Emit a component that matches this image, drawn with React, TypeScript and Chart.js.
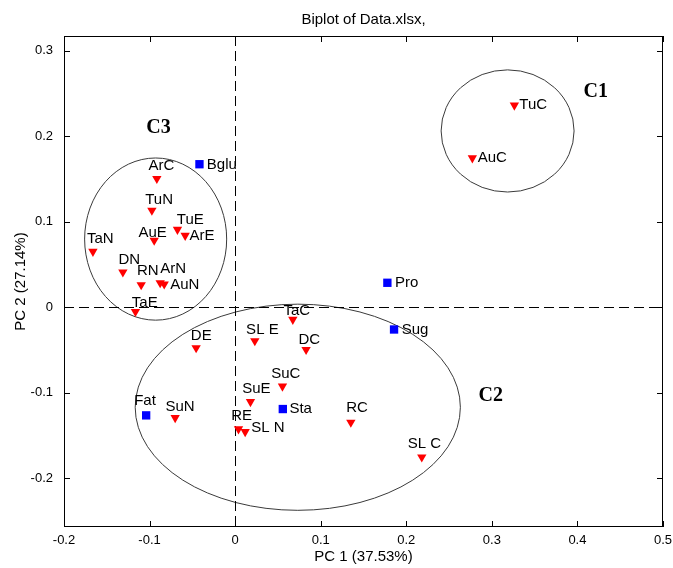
import React, { useEffect, useRef } from 'react';
import { Chart, registerables } from 'chart.js';

Chart.register(...registerables);

// ---------- data ----------
const sampleNames = ['TuC', 'AuC', 'ArC', 'TuN', 'TuE', 'ArE', 'AuE', 'TaN', 'DN', 'RN', 'ArN', 'AuN', 'TaE', 'TaC', 'SL E', 'DE', 'DC', 'SuC', 'SuE', 'SuN', 'RE', 'SL N', 'RC', 'SL C'];
const samplePC1 = [0.3263, 0.2772, -0.0915, -0.0973, -0.0674, -0.0584, -0.0946, -0.1662, -0.1312, -0.1098, -0.0876, -0.0829, -0.1165, 0.0674, 0.0230, -0.0456, 0.0829, 0.0553, 0.0179, -0.0701, 0.0039, 0.0117, 0.1352, 0.2181];
const samplePC2 = [0.2360, 0.1744, 0.1502, 0.1131, 0.0908, 0.0838, 0.0780, 0.0651, 0.0410, 0.0261, 0.0284, 0.0269, -0.0052, -0.0145, -0.0395, -0.0477, -0.0497, -0.0925, -0.1106, -0.1293, -0.1425, -0.1457, -0.1347, -0.1753];

const variableNames = ['Bglu', 'Pro', 'Sug', 'Sta', 'Fat'];
const variablePC1 = [-0.0417, 0.1779, 0.1857, 0.0557, -0.1040];
const variablePC2 = [0.1671, 0.0285, -0.0261, -0.1191, -0.1265];

const xTicks = [-0.2, -0.1, 0, 0.1, 0.2, 0.3, 0.4, 0.5];
const yTicks = [-0.2, -0.1, 0, 0.1, 0.2, 0.3];

const clusterNames = ['C1', 'C2', 'C3'];
const clusterCenterPC1 = [0.3184, 0.0732, -0.0929];
const clusterCenterPC2 = [0.2060, -0.1170, 0.0796];
const clusterRadiusPC1 = [0.0777, 0.1900, 0.0830];
const clusterRadiusPC2 = [0.0714, 0.1205, 0.0948];
const clusterLabelPC1 = [0.4214, 0.2987, -0.0896];
const clusterLabelPC2 = [0.2512, -0.1034, 0.2092];

// ---------- label layout (pixel offsets from marker) ----------
const sampleLabelOffset = [
  [5, 0], [5.4, 0], [-8.4, -12.7], [-6.7, -10.7], [-0.6, -9.7], [4.3, 0.6], [-15.7, -7.7], [-6, -12.7],
  [-4.4, -12.6], [-4.3, -14.3], [0, -14], [6, 0.4], [-3.6, -8.7], [-9.4, -9], [-8.7, -11.3], [-5.3, -12.3],
  [-7.7, -10], [-11.3, -12.3], [-8.3, -12.7], [-9.7, -11], [-7.3, -12.7], [6, -4.4], [-4.7, -15], [-14, -13],
];
const variableLabelOffset = [[7.4, 0.7], [7.7, 0], [7.7, 0.7], [6.6, 0], [-12, -15]];

const FONT = '"Liberation Sans", Arial, Helvetica, sans-serif';
const SERIF = '"Liberation Serif", "Times New Roman", serif';

const fmt = (v: number) => (Math.abs(v) < 1e-9 ? '0' : String(parseFloat(Number(v).toFixed(2))));

const decorPlugin = {
  id: 'biplotDecor',
  beforeDatasetsDraw(chart: any) {
    const { ctx, chartArea, scales } = chart;
    const { left, right, top, bottom } = chartArea;
    const xs = scales.x;
    const ys = scales.y;
    ctx.save();
    // cluster ellipses
    ctx.strokeStyle = '#3a3a3a';
    ctx.lineWidth = 1;
    clusterNames.forEach((_, i) => {
      const cx = xs.getPixelForValue(clusterCenterPC1[i]);
      const cy = ys.getPixelForValue(clusterCenterPC2[i]);
      const rx = Math.abs(xs.getPixelForValue(clusterCenterPC1[i] + clusterRadiusPC1[i]) - cx);
      const ry = Math.abs(ys.getPixelForValue(clusterCenterPC2[i] + clusterRadiusPC2[i]) - cy);
      ctx.beginPath();
      ctx.ellipse(cx, cy, rx, ry, 0, 0, Math.PI * 2);
      ctx.stroke();
    });
    // dashed zero lines
    ctx.strokeStyle = '#000';
    ctx.setLineDash([10, 5]);
    const x0 = Math.round(xs.getPixelForValue(0)) + 0.5;
    const y0 = Math.round(ys.getPixelForValue(0)) + 0.5;
    ctx.beginPath();
    ctx.moveTo(x0, top);
    ctx.lineTo(x0, bottom);
    ctx.moveTo(left, y0);
    ctx.lineTo(right, y0);
    ctx.stroke();
    ctx.restore();
  },
  afterDatasetsDraw(chart: any) {
    const { ctx, chartArea, scales } = chart;
    const { left, right, top, bottom } = chartArea;
    const xs = scales.x;
    const ys = scales.y;
    ctx.save();
    // point labels
    ctx.fillStyle = '#000';
    ctx.font = `15px ${FONT}`;
    ctx.textAlign = 'left';
    ctx.textBaseline = 'middle';
    sampleNames.forEach((n, i) => {
      const px = xs.getPixelForValue(samplePC1[i]);
      const py = ys.getPixelForValue(samplePC2[i]);
      ctx.fillText(n, px + sampleLabelOffset[i][0], py + sampleLabelOffset[i][1]);
    });
    variableNames.forEach((n, i) => {
      const px = xs.getPixelForValue(variablePC1[i]);
      const py = ys.getPixelForValue(variablePC2[i]);
      ctx.fillText(n, px + variableLabelOffset[i][0], py + variableLabelOffset[i][1]);
    });
    // cluster names
    ctx.font = `bold 20px ${SERIF}`;
    ctx.textAlign = 'center';
    clusterNames.forEach((n, i) => {
      ctx.fillText(n, xs.getPixelForValue(clusterLabelPC1[i]), ys.getPixelForValue(clusterLabelPC2[i]));
    });
    // box
    ctx.strokeStyle = '#000';
    ctx.lineWidth = 1;
    ctx.strokeRect(left + 0.5, top + 0.5, right - left - 1, bottom - top - 1);
    // inward ticks
    const tl = 6;
    ctx.beginPath();
    xTicks.forEach((v) => {
      const px = Math.round(xs.getPixelForValue(v)) + 0.5;
      ctx.moveTo(px, bottom);
      ctx.lineTo(px, bottom - tl);
      ctx.moveTo(px, top);
      ctx.lineTo(px, top + tl);
    });
    yTicks.forEach((v) => {
      const py = Math.round(ys.getPixelForValue(v)) + 0.5;
      ctx.moveTo(left, py);
      ctx.lineTo(left + tl, py);
      ctx.moveTo(right, py);
      ctx.lineTo(right - tl, py);
    });
    ctx.stroke();
    ctx.restore();
  },
};

export default function App() {
  const ref = useRef<HTMLCanvasElement>(null);
  useEffect(() => {
    if (!ref.current) return;
    Chart.defaults.font.family = FONT;
    const chart = new Chart(ref.current, {
      type: 'scatter',
      data: {
        datasets: [
          {
            label: 'Observations',
            data: sampleNames.map((_, i) => ({ x: samplePC1[i], y: samplePC2[i] })),
            pointStyle: 'triangle',
            pointRotation: 180,
            pointRadius: 5.4,
            pointBackgroundColor: '#ff0000',
            backgroundColor: '#ff0000',
            pointBorderWidth: 0,
            borderWidth: 0,
          } as any,
          {
            label: 'Variables',
            data: variableNames.map((_, i) => ({ x: variablePC1[i], y: variablePC2[i] })),
            pointStyle: 'rect',
            pointRadius: 5.9,
            pointBackgroundColor: '#0000ff',
            backgroundColor: '#0000ff',
            pointBorderWidth: 0,
            borderWidth: 0,
          } as any,
        ],
      },
      options: {
        responsive: false,
        maintainAspectRatio: false,
        animation: false,
        events: [],
        layout: { padding: { left: 0, right: 10, top: 0, bottom: 0 } },
        plugins: {
          legend: { display: false },
          tooltip: { enabled: false },
          title: {
            display: true,
            text: 'Biplot of Data.xlsx,',
            fullSize: false,
            color: '#000',
            font: { family: FONT, size: 15, weight: 'normal' },
            padding: { top: 11, bottom: 7 },
          },
        },
        scales: {
          x: {
            type: 'linear',
            min: -0.2,
            max: 0.5,
            afterBuildTicks: (s: any) => {
              s.ticks = xTicks.map((v) => ({ value: v }));
            },
            afterFit: (s: any) => {
              s.height = 41;
              s.paddingLeft = 0;
              s.paddingRight = 0;
            },
            grid: { display: false, drawTicks: false },
            border: { display: false },
            ticks: {
              color: '#000',
              font: { family: FONT, size: 13 },
              padding: 6,
              maxRotation: 0,
              autoSkip: false,
              callback: (v: any) => fmt(v),
            },
            title: {
              display: true,
              text: 'PC 1 (37.53%)',
              color: '#000',
              font: { family: FONT, size: 15 },
              padding: { top: 0, bottom: 2 },
            },
          },
          y: {
            type: 'linear',
            min: -0.257,
            max: 0.317,
            afterBuildTicks: (s: any) => {
              s.ticks = yTicks.map((v) => ({ value: v }));
            },
            afterFit: (s: any) => {
              s.width = 64;
              s.paddingTop = 0;
              s.paddingBottom = 0;
            },
            grid: { display: false, drawTicks: false },
            border: { display: false },
            ticks: {
              color: '#000',
              font: { family: FONT, size: 13 },
              padding: 11,
              autoSkip: false,
              callback: (v: any) => fmt(v),
            },
            title: {
              display: true,
              text: 'PC 2 (27.14%)',
              color: '#000',
              font: { family: FONT, size: 15 },
              padding: { top: 12, bottom: 0 },
            },
          },
        },
      } as any,
      plugins: [decorPlugin],
    });
    return () => chart.destroy();
  }, []);
  return (
    <div style={{ position: 'absolute', left: 0, top: 0, width: 673, height: 568, background: '#fff' }}>
      <canvas ref={ref} width={673} height={568} style={{ display: 'block', width: 673, height: 568 }} />
    </div>
  );
}
